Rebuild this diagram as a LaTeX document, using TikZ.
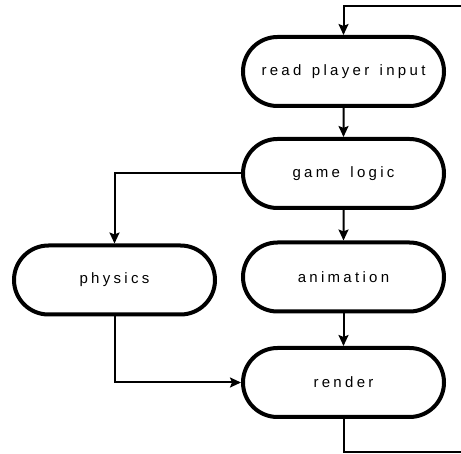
\documentclass[tikz,border=0pt]{standalone}
\usepackage{fontspec}
\newfontfamily\boxfont[LetterSpace=22,WordSpace=1.4]{Liberation Sans}
\usetikzlibrary{shapes.misc,arrows.meta}
\tikzset{
  stadium/.style={rounded rectangle, draw=black, line width=4pt, fill=white,
    minimum width=201pt, minimum height=69pt, inner sep=0pt,
    font=\boxfont\fontsize{15pt}{18pt}\selectfont},
  conn/.style={draw=black, line width=2pt},
  arr/.style={conn, -{Stealth[length=11pt,width=10pt,inset=2pt]}}
}
\begin{document}
\begin{tikzpicture}[x=1pt,y=-1pt]
\useasboundingbox (0,0) rectangle (461,454);
\node[stadium] (read) at (343.5,71.5) {read player input};
\node[stadium] (logic) at (343.5,173.5) {game logic};
\node[stadium] (anim) at (343.5,277) {animation};
\node[stadium] (phys) at (114.5,280) {physics};
\node[stadium] (render) at (343.5,382.5) {render};
\coordinate (topin) at (461,6);
\coordinate (botout) at (461,452);
\draw[arr] (topin) -- (read.north |- topin) -- (read.north);
\draw[arr] (read) -- (logic);
\draw[arr] (logic.west) -- (phys.north |- logic.west) -- (phys.north);
\draw[arr] (logic) -- (anim);
\draw[arr] (anim.south) -- (render.north);
\draw[arr] (phys.south) -- (phys.south |- render.west) -- (render.west);
\draw[conn] (render.south) -- (render.south |- botout) -- (botout);
\end{tikzpicture}
\end{document}
